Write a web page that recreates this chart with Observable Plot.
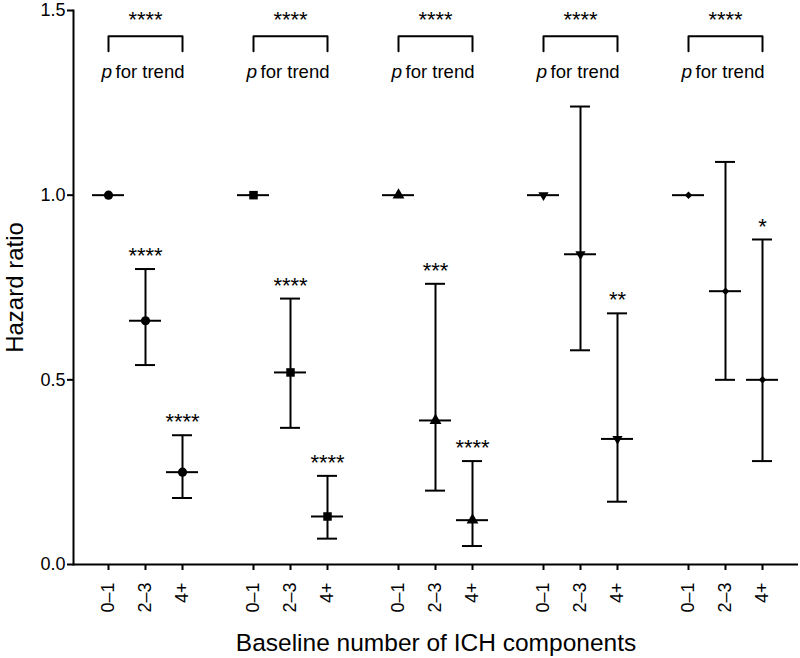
<!DOCTYPE html>
<html><head><meta charset="utf-8">
<script src="https://cdn.jsdelivr.net/npm/d3@7"></script>
<script src="https://cdn.jsdelivr.net/npm/@observablehq/plot@0.6"></script>
<style>body{margin:0;background:#fff}</style>
</head><body><div id="chart"></div>
<script>
// ---- data ----
const groups = ["G1", "G2", "G3", "G4", "G5"];
const categories = ["0–1", "2–3", "4+"];
const hazardRatio = [
  [1.00, 0.66, 0.25],
  [1.00, 0.52, 0.13],
  [1.00, 0.39, 0.12],
  [1.00, 0.84, 0.34],
  [1.00, 0.74, 0.50]
];
const lowerCI = [
  [null, 0.54, 0.18],
  [null, 0.37, 0.07],
  [null, 0.20, 0.05],
  [null, 0.58, 0.17],
  [null, 0.50, 0.28]
];
const upperCI = [
  [null, 0.80, 0.35],
  [null, 0.72, 0.24],
  [null, 0.76, 0.28],
  [null, 1.24, 0.68],
  [null, 1.09, 0.88]
];
const significance = [
  ["", "****", "****"],
  ["", "****", "****"],
  ["", "***", "****"],
  ["", "", "**"],
  ["", "", "*"]
];
const trendSignificance = ["****", "****", "****", "****", "****"];
const yTicks = [0, 0.5, 1.0, 1.5];

// ---- styles ----
const markerShapes = ["circle", "square", "triangle", "triangle", "diamond2"];
const markerRotate = [0, 0, 0, 180, 0];
const markerRadius = [4.6, 4.8, 4.4, 3.8, 3.4];
const bracketTop = 1.43, bracketBottom = 1.39;

const rows = groups.flatMap((g, gi) => categories.map((c, ci) => ({
  group: g, gi, cat: c,
  hr: hazardRatio[gi][ci], lo: lowerCI[gi][ci], hi: upperCI[gi][ci],
  sig: significance[gi][ci]
})));
const ciRows = rows.filter(d => d.lo != null);
const bracketRows = groups.flatMap(g => [
  {group: g, cat: categories[0], y: bracketBottom},
  {group: g, cat: categories[0], y: bracketTop},
  {group: g, cat: categories[2], y: bracketTop},
  {group: g, cat: categories[2], y: bracketBottom}
]);

const font = "'Liberation Sans', Arial, Helvetica, sans-serif";

const chart = Plot.plot({
  width: 800,
  height: 658,
  marginTop: 10,
  marginLeft: 72,
  marginRight: 2,
  marginBottom: 94,
  style: {fontFamily: font, color: "black", background: "white", overflow: "visible"},
  fx: {domain: groups, paddingInner: 0, paddingOuter: 0, axis: null, label: null},
  x: {domain: categories, padding: 0.83},
  y: {domain: [0, 1.5]},
  marks: [
    Plot.axisY({ticks: yTicks, tickFormat: d3.format(".1f"), tickSize: 6, tickPadding: 2, fontSize: 18, strokeWidth: 2, label: null}),
    Plot.axisY({ticks: [], label: "Hazard ratio", labelArrow: "none", labelAnchor: "center", labelOffset: 68, fontSize: 24}),
    Plot.axisX({tickRotate: -90, tickSize: 6, tickPadding: 12, fontSize: 18, strokeWidth: 2, label: null}),
    Plot.axisX({ticks: [], label: "Baseline number of ICH components", labelArrow: "none", labelAnchor: "center", labelOffset: 86, fontSize: 24.5}),
    Plot.ruleY([0], {strokeWidth: 2}),
    Plot.frame({anchor: "left", facetAnchor: "left", strokeWidth: 2}),
    Plot.ruleX(ciRows, {fx: "group", x: "cat", y1: "lo", y2: "hi", strokeWidth: 2}),
    Plot.tickY(ciRows, {fx: "group", x: "cat", y: "lo", insetLeft: -7, insetRight: -7, strokeWidth: 2}),
    Plot.tickY(ciRows, {fx: "group", x: "cat", y: "hi", insetLeft: -7, insetRight: -7, strokeWidth: 2}),
    Plot.tickY(rows, {fx: "group", x: "cat", y: "hr", insetLeft: -13, insetRight: -13, strokeWidth: 2}),
    ...groups.map((g, gi) => Plot.dot(rows.filter(d => d.group === g), {
      fx: "group", x: "cat", y: "hr", symbol: markerShapes[gi], rotate: markerRotate[gi],
      r: markerRadius[gi], fill: "black", stroke: "none"
    })),
    Plot.text(ciRows, {fx: "group", x: "cat", y: "hi", text: "sig", dy: -13, fontSize: 22}),
    Plot.line(bracketRows, {fx: "group", x: "cat", y: "y", z: "group", strokeWidth: 2}),
    Plot.text(groups, {fx: d => d, x: () => categories[1], frameAnchor: "top", lineAnchor: "top", dy: 1,
      text: (d, i) => trendSignificance[i], fontSize: 22}),
    Plot.text(groups, {fx: d => d, x: () => categories[0], frameAnchor: "top", lineAnchor: "top", dy: 54,
      text: () => "p", textAnchor: "start", dx: -7, fontSize: 19, fontStyle: "italic"}),
    Plot.text(groups, {fx: d => d, x: () => categories[2], frameAnchor: "top", lineAnchor: "top", dy: 54,
      text: () => "for trend", textAnchor: "end", dx: 2, fontSize: 18.5})
  ]
});
document.getElementById("chart").appendChild(chart);
</script>
</body></html>
